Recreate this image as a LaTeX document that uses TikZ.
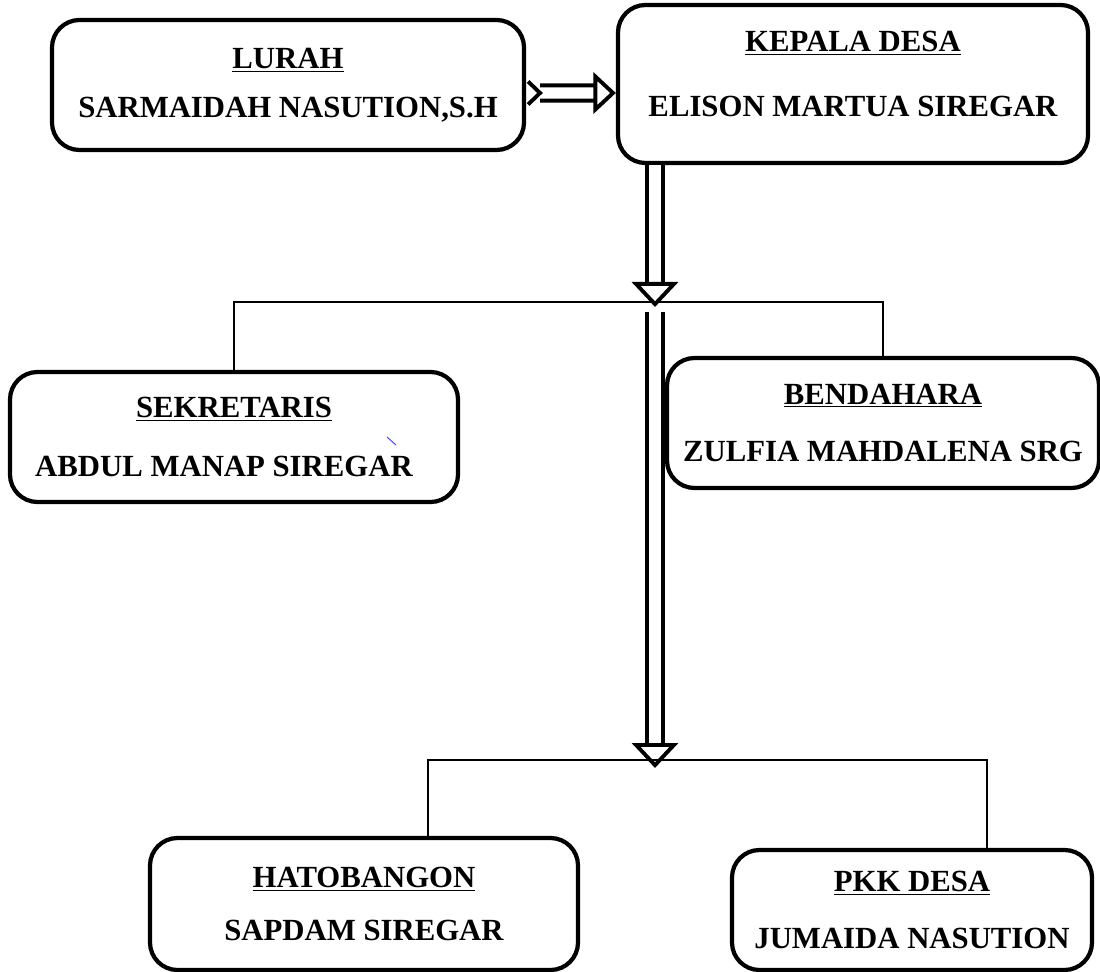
\documentclass[tikz,border=0pt]{standalone}
\usepackage{fontspec}
\setmainfont{Liberation Serif}
\usetikzlibrary{arrows.meta,positioning,calc}

\begin{document}
\begin{tikzpicture}[
    box/.style={rectangle, draw=black, line width=2.4pt, rounded corners=0.55cm, align=center, inner sep=0pt, font=\bfseries\fontsize{17.5}{21}\selectfont},
    link/.style={line width=0.9pt},
    dblarrow/.style={double, double distance=6.5pt, line width=2.2pt, -{Triangle[open, width=0.92cm, length=0.5cm]}},
]
\useasboundingbox (0,0) rectangle (22,-19.44);

% Top row
\node[box, minimum width=9.44cm, minimum height=2.6cm] (lurah) at (5.76,-1.7) {\underline{LURAH}\\[7pt]SARMAIDAH NASUTION,S.H};
\node[box, minimum width=9.4cm, minimum height=3.16cm] (kades) at (17.06,-1.68) {\underline{KEPALA DESA}\\[16pt]ELISON MARTUA SIREGAR\rule[-12pt]{0pt}{12pt}};

% Middle row
\node[box, minimum width=8.96cm, minimum height=2.6cm] (sekdes) at (4.68,-8.74) {\underline{SEKRETARIS}\\[13pt]ABDUL MANAP SIREGAR\hspace*{0.4cm}};
\node[box, minimum width=8.64cm, minimum height=2.6cm] (bendahara) at (17.66,-8.46) {\underline{BENDAHARA}\\[12pt]ZULFIA MAHDALENA SRG};

% Bottom row
\node[box, minimum width=8.56cm, minimum height=2.64cm] (hatobangon) at (7.28,-18.08) {\underline{HATOBANGON}\\[9pt]SAPDAM SIREGAR};
\node[box, minimum width=7.2cm, minimum height=2.4cm] (pkk) at (18.24,-18.2) {\underline{PKK DESA}\\[11pt]JUMAIDA NASUTION};

% Junctions
\coordinate (j1) at (13.1,-6.04);
\coordinate (j2) at (13.1,-15.2);

% Lines to the boxes
\draw[link] (sekdes.north) |- (j1) -| (bendahara.north);
\draw[link] ([xshift=1.28cm]hatobangon.north) |- (j2) -| ([xshift=1.5cm]pkk.north);

% Double arrows
\draw[dblarrow, {Straight Barb[reversed, width=0.46cm, length=0.24cm]}-{Triangle[open, width=0.82cm, length=0.45cm]}] ([yshift=-0.16cm]lurah.east) -- ([yshift=-0.18cm]kades.west);
\draw[dblarrow] (kades.south -| j1) -- ([yshift=-0.1cm]j1);
\draw[dblarrow] ([yshift=-0.2cm]j1) -- ([yshift=-0.16cm]j2);

% stray mark
\draw[blue!70, line width=0.6pt] (7.74,-8.74) -- (7.92,-8.9);

\end{tikzpicture}
\end{document}
